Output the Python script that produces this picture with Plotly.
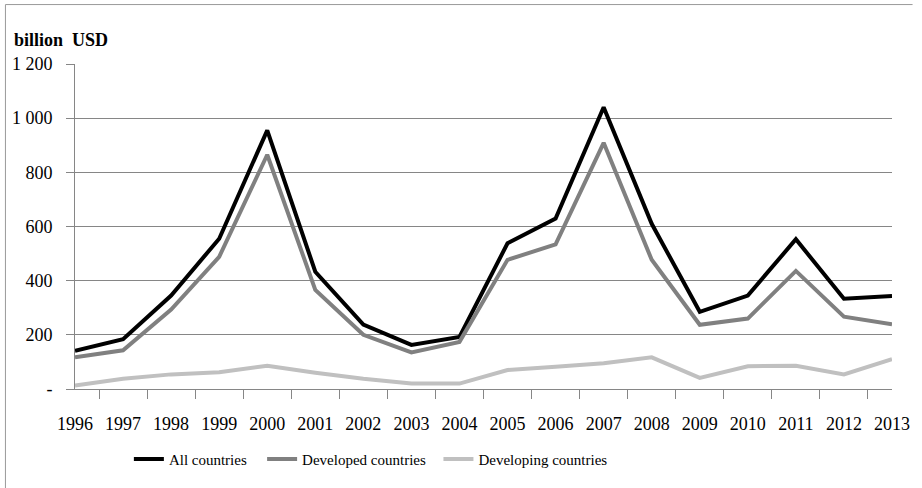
import plotly.graph_objects as go

# Annual values, billion USD
years = [str(y) for y in range(1996, 2014)]
all_countries = [141, 184, 345, 555, 955, 433, 238, 163, 192, 538, 629, 1040, 610, 285, 345, 553, 333, 343]
developed = [117, 143, 293, 488, 865, 366, 200, 135, 174, 477, 534, 909, 477, 237, 260, 436, 267, 239]
developing = [13, 38, 54, 62, 86, 60, 38, 20, 20, 70, 82, 95, 117, 41, 84, 86, 54, 110]

y_tick_vals = [0, 200, 400, 600, 800, 1000, 1200]
y_tick_text = ["-", "200", "400", "600", "800", "1 000", "1 200"]

series = [
    ("All countries", all_countries, "#000000", "legend", 130),
    ("Developed countries", developed, "#808080", "legend2", 266),
    ("Developing countries", developing, "#c0c0c0", "legend3", 446),
]

FONT = "Liberation Serif"

W, H = 922, 488
L, R, T, B = 75, 13, 64, 96
pw, ph = W - L - R, H - T - B

def px_x(x):
    return (x - L) / pw

def px_y(y):
    return (H - B - y) / ph

fig = go.Figure()
legends = {}
for name, vals, color, leg, lx in series:
    fig.add_trace(go.Scatter(
        x=years, y=vals, name=name, mode="lines",
        line=dict(color=color, width=4), legend=leg,
    ))
    legends[leg] = dict(
        orientation="h", x=px_x(lx), xanchor="left", y=px_y(463), yanchor="middle",
        font=dict(family=FONT, size=15, color="black"),
        bgcolor="rgba(0,0,0,0)", itemwidth=30,
    )

fig.update_layout(
    width=W, height=H,
    margin=dict(l=L, r=R, t=T, b=B, pad=0),
    paper_bgcolor="white", plot_bgcolor="white",
    font=dict(family=FONT, size=18, color="black"),
    showlegend=True,
    **legends,
    xaxis=dict(
        type="category", tickson="boundaries", ticks="outside", ticklen=9,
        tickcolor="#868686", showline=True, linecolor="#868686", linewidth=1,
        showgrid=False, tickfont=dict(family=FONT, size=18), zeroline=False,
        ticklabelstandoff=18,
    ),
    yaxis=dict(
        range=[0, 1200], tickvals=y_tick_vals, ticktext=y_tick_text,
        ticks="outside", ticklen=8, tickcolor="#868686",
        showline=True, linecolor="#868686", linewidth=1,
        showgrid=True, gridcolor="#868686", gridwidth=1,
        zeroline=False, tickfont=dict(family=FONT, size=18),
        ticklabelstandoff=10,
    ),
    annotations=[dict(
        text="<b>billion  USD</b>", xref="paper", yref="paper",
        x=px_x(11), y=px_y(40), xanchor="left", yanchor="middle",
        showarrow=False, font=dict(family=FONT, size=18, color="black"),
    )],
    shapes=[
        dict(type="line", xref="paper", yref="paper",
             x0=px_x(4), x1=px_x(4), y0=px_y(4), y1=px_y(500),
             line=dict(color="#9a9a9a", width=1)),
        dict(type="line", xref="paper", yref="paper",
             x0=px_x(4), x1=px_x(930), y0=px_y(4), y1=px_y(4),
             line=dict(color="#9a9a9a", width=1)),
    ],
)

fig.write_html("out.html")
